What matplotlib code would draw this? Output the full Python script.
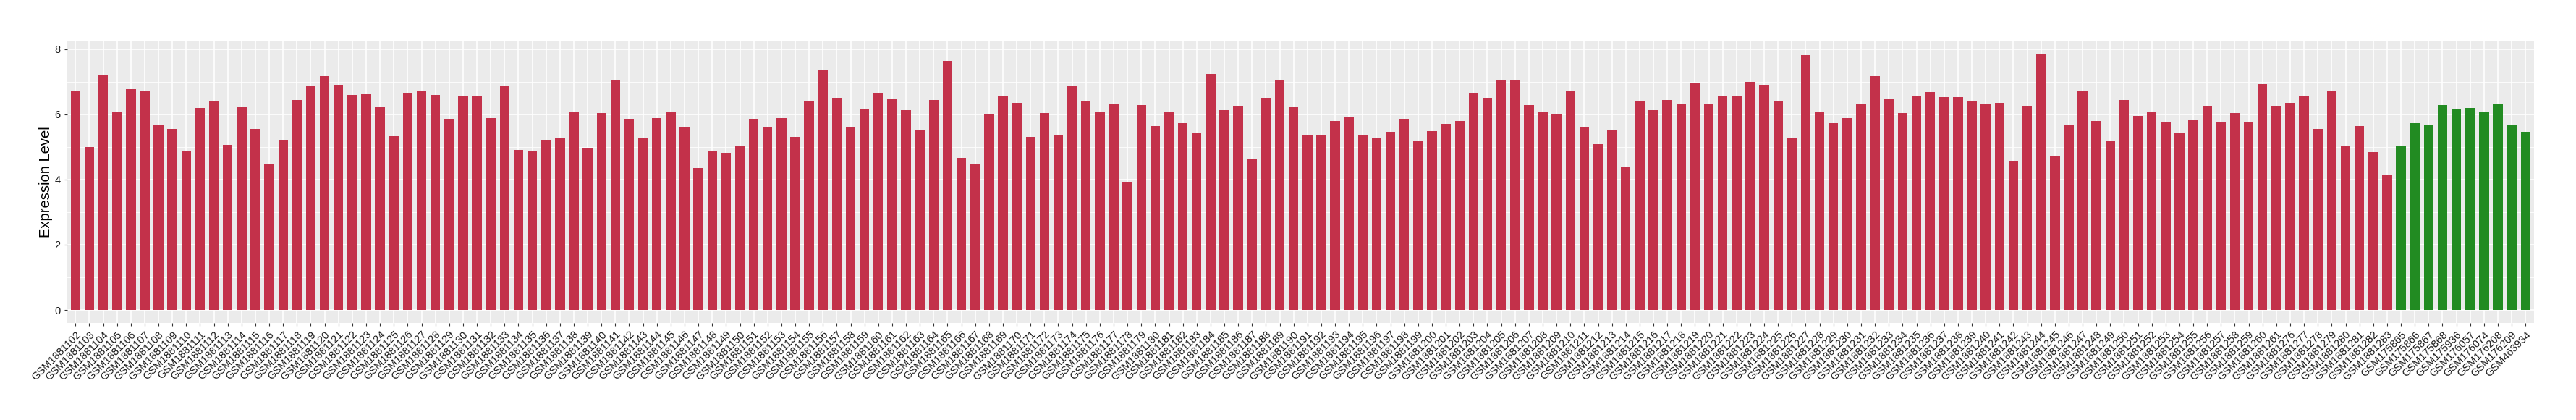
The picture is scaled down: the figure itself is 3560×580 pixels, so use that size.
import numpy as np
import matplotlib.pyplot as plt
from matplotlib.ticker import MultipleLocator

# sample ids (red group = GSM1881xxx, middle section still provisional)
red_suffix = """102 103 104 105 106 107 108 109 110 111 112 113 114 115 116 117
118 119 120 121 122 123 124 125 126 127 128 129 130 131 132 133 134 135 136 137
138 139 140 141 142 143 144 145 146 147 148 149 150 151 152 153 154 155 156 157
158 159 160 161 162 163 164 165 166 167 168 169 170 171 172 173 174 175 176 177
178 179 180 181 182 183 184 185 186 187 188 189 190 191 192 193 194 195 196 197
198 199 200 201 202 203 204 205 206 207 208 209 210 211 212 213 214 215 216 217
218 219 220 221 222 223 224 225 226 227 228 229 230 231 232 233 234 235 236 237
238 239 240 241 242 243 244 245 246 247 248 249 250 251 252 253 254 255 256 257
258 259 260 261 276 277 278 279 280 281 282 283""".split()
red_labels = ['GSM1881' + s for s in red_suffix]

red_values = [
    6.73, 5.00, 7.20, 6.07, 6.76, 6.71, 5.69, 5.56, 4.87, 6.20, 6.40, 5.07, 6.22, 5.56, 4.47, 5.20,
    6.44, 6.86, 7.17, 6.88, 6.59, 6.62, 6.22, 5.33, 6.66, 6.73, 6.59, 5.86, 6.57, 6.55,
    5.88, 6.86, 4.91, 4.89, 5.22, 5.27, 6.06, 4.96, 6.04, 7.04, 5.86, 5.27, 5.88, 6.08,
    5.60, 4.34, 4.89, 4.82, 5.02, 5.84, 5.60, 5.88, 5.31, 6.39, 7.35, 6.48, 5.62, 6.17, 6.64,
    6.46, 6.13, 5.51, 6.44, 7.63, 4.67, 4.49, 6.00, 6.57, 6.35, 5.31, 6.04, 5.35, 6.86,
    6.39, 6.06, 6.33, 3.94, 6.28, 5.64, 6.08, 5.73, 5.44, 7.23, 6.13, 6.26, 4.65, 6.48, 7.06,
    6.22, 5.35, 5.38, 5.80, 5.91, 5.38, 5.27, 5.46, 5.86, 5.18, 5.49, 5.71, 5.80, 6.66, 6.48,
    7.06, 7.04, 6.28, 6.08, 6.02, 6.70, 5.60, 5.09, 5.51, 4.40, 6.39, 6.13, 6.44, 6.33,
    6.95, 6.31, 6.55, 6.55, 6.99, 6.90, 6.39, 5.29, 7.81, 6.06, 5.73, 5.88, 6.31, 7.17, 6.46,
    6.04, 6.55, 6.68, 6.53, 6.53, 6.42, 6.33, 6.35, 4.56, 6.26, 7.85, 4.71, 5.66, 6.73,
    5.80, 5.18, 6.44, 5.95, 6.08, 5.75, 5.42, 5.82, 6.26, 5.75, 6.04, 5.75, 6.92, 6.24,
    6.35, 6.57, 5.56, 6.71, 5.03, 5.63, 4.83, 4.12,
]

green_labels = ['GSM175865', 'GSM175866', 'GSM175867', 'GSM175868', 'GSM175936',
                'GSM176057', 'GSM176074', 'GSM176208', 'GSM176209', 'GSM463934']
green_values = [5.03, 5.73, 5.67, 6.29, 6.18, 6.20, 6.09, 6.31, 5.65, 5.45]

labels = red_labels + green_labels
values = red_values + green_values
colors = ['#C3314A'] * len(red_values) + ['#228B22'] * len(green_values)
x = np.arange(len(labels))

plt.rcParams['font.family'] = ['Liberation Sans', 'DejaVu Sans']

fig = plt.figure(figsize=(35.6, 5.8), dpi=100)
ax = fig.add_axes([0.02607, 0.2316, 0.95755, 0.6706])
ax.set_facecolor('#EBEBEB')

ax.bar(x, values, 0.7, color=colors, zorder=3)

ax.set_xlim(-0.6, len(labels) - 0.4)
ax.set_ylim(-0.39, 8.24)
ax.yaxis.set_major_locator(MultipleLocator(2))
ax.yaxis.set_minor_locator(MultipleLocator(1))
ax.set_xticks(x)
ax.set_xticklabels(labels, rotation=45, ha='right', va='top', rotation_mode='anchor',
                   fontsize=10.5, color='#1A1A1A')
ax.tick_params(axis='y', labelsize=10.5, labelcolor='#1A1A1A')
ax.tick_params(axis='both', which='major', length=3, width=0.8, color='#333333')
ax.tick_params(axis='y', which='minor', length=0)

ax.grid(which='major', color='white', linewidth=1.2, zorder=0)
ax.grid(which='minor', axis='y', color='white', linewidth=0.6, zorder=0)
ax.set_axisbelow(True)
for s in ax.spines.values():
    s.set_visible(False)

ax.set_ylabel('Expression Level', fontsize=14.5, labelpad=2)

fig.savefig('out.png', dpi=100)
